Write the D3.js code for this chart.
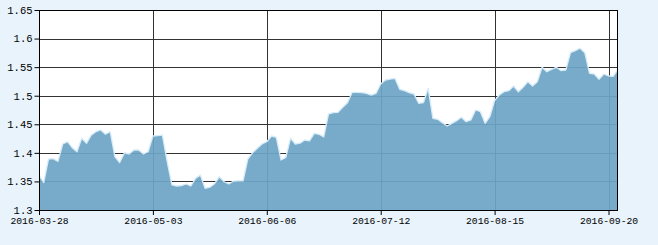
<!DOCTYPE html>
<html>
<head>
<meta charset="utf-8">
<script src="https://cdn.jsdelivr.net/npm/d3@7"></script>
<style>
  html, body { margin: 0; padding: 0; background: #e8f3fb; }
  svg { display: block; }
  text { font-family: "Liberation Mono", "DejaVu Sans Mono", monospace; font-size: 9.7px; fill: #000; }
</style>
</head>
<body>
<div id="chart"></div>
<script>
// Net value series (one per trading day, 2016-03-28 .. 2016-09-22)
const values = [
  1.361, 1.348, 1.389, 1.390, 1.385, 1.4155, 1.4195, 1.409, 1.402, 1.4255,
  1.4167, 1.431, 1.437, 1.440, 1.4325, 1.437, 1.393, 1.383, 1.400, 1.398,
  1.405, 1.405, 1.398, 1.402, 1.4295, 1.430, 1.431, 1.385, 1.344, 1.342,
  1.3425, 1.3455, 1.342, 1.3555, 1.361, 1.338, 1.340, 1.346, 1.358, 1.3495,
  1.3455, 1.3507, 1.351, 1.351, 1.389, 1.400, 1.408, 1.4155, 1.4195, 1.4295,
  1.4272, 1.3875, 1.392, 1.4255, 1.4155, 1.417, 1.4225, 1.421, 1.434, 1.4325,
  1.428, 1.468, 1.4703, 1.471, 1.4797, 1.4878, 1.506, 1.506, 1.5055, 1.5042,
  1.5012, 1.504, 1.5205, 1.5275, 1.5292, 1.5305, 1.5112, 1.5088, 1.5053, 1.503,
  1.4867, 1.4878, 1.513, 1.4605, 1.4587, 1.4528, 1.447, 1.4517, 1.4563, 1.4622,
  1.4545, 1.4575, 1.475, 1.472, 1.4517, 1.4633, 1.4913, 1.5012, 1.507, 1.5088,
  1.517, 1.507, 1.5147, 1.5245, 1.517, 1.5245, 1.5497, 1.542, 1.5462, 1.5497,
  1.5438, 1.545, 1.5753, 1.5788, 1.583, 1.5753, 1.5392, 1.538, 1.5287, 1.538,
  1.5345, 1.534, 1.5462
];
// x tick labels and the index of the trading day they mark
const xTickLabels = ["2016-03-28", "2016-05-03", "2016-06-06", "2016-07-12", "2016-08-15", "2016-09-20"];
const xTickIndex = [0, 24, 48, 72, 96, 120];
// y tick values
const yTicks = [1.3, 1.35, 1.4, 1.45, 1.5, 1.55, 1.6, 1.65];

const W = 658, H = 245;
const m = { left: 39, right: 40, top: 10, bottom: 35 };

const svg = d3.select("#chart").append("svg").attr("width", W).attr("height", H);

const x = d3.scaleLinear().domain([0, values.length - 1]).range([m.left, W - m.right]);
const y = d3.scaleLinear().domain([1.3, 1.65]).range([H - m.bottom, m.top]);

// plot background
svg.append("rect")
  .attr("x", m.left).attr("y", m.top)
  .attr("width", W - m.left - m.right).attr("height", H - m.top - m.bottom)
  .attr("fill", "#ffffff");

// grid lines
const grid = svg.append("g").attr("stroke", "#333333").attr("stroke-width", 1).attr("shape-rendering", "crispEdges");
grid.selectAll("line.h").data(yTicks).enter().append("line")
  .attr("x1", m.left).attr("x2", W - m.right)
  .attr("y1", d => Math.round(y(d)) + 0.5).attr("y2", d => Math.round(y(d)) + 0.5);
grid.selectAll("line.v").data(xTickIndex).enter().append("line")
  .attr("y1", m.top).attr("y2", H - m.bottom)
  .attr("x1", d => Math.round(x(d)) + 0.5).attr("x2", d => Math.round(x(d)) + 0.5);

// area
const area = d3.area().x((d, i) => x(i)).y0(y(1.3)).y1(d => y(d));
svg.append("path").datum(values)
  .attr("d", area)
  .attr("fill", "#6ea5c5")
  .attr("fill-opacity", 0.93);
const line = d3.line().x((d, i) => x(i)).y(d => y(d));
svg.append("path").datum(values)
  .attr("d", line)
  .attr("fill", "none")
  .attr("stroke", "#d6ebf8")
  .attr("stroke-width", 1.3)
  .attr("stroke-linejoin", "round");

// frame
svg.append("rect")
  .attr("x", m.left + 0.5).attr("y", m.top + 0.5)
  .attr("width", W - m.left - m.right - 1).attr("height", H - m.top - m.bottom)
  .attr("fill", "none").attr("stroke", "#000").attr("stroke-width", 1)
  .attr("shape-rendering", "crispEdges");

// axes
const fmt = d => String(+d.toFixed(2));
const yAxis = d3.axisLeft(y).tickValues(yTicks).tickFormat(fmt).tickSize(5).tickPadding(2);
const gy = svg.append("g").attr("transform", `translate(${m.left + 0.5},0)`).call(yAxis);
gy.select(".domain").remove();
gy.selectAll("line").attr("stroke", "#000");
gy.selectAll("text").style("font-family", '"Liberation Mono", monospace').style("font-size", "10.5px");

const xAxis = d3.axisBottom(x).tickValues(xTickIndex).tickFormat((d, i) => xTickLabels[i]).tickSize(5).tickPadding(2);
const gx = svg.append("g").attr("transform", `translate(0,${H - m.bottom})`).call(xAxis);
gx.select(".domain").remove();
gx.selectAll("line").attr("stroke", "#000");
gx.selectAll("text").style("font-family", '"Liberation Mono", monospace').style("font-size", "9.7px");
</script>
</body>
</html>
